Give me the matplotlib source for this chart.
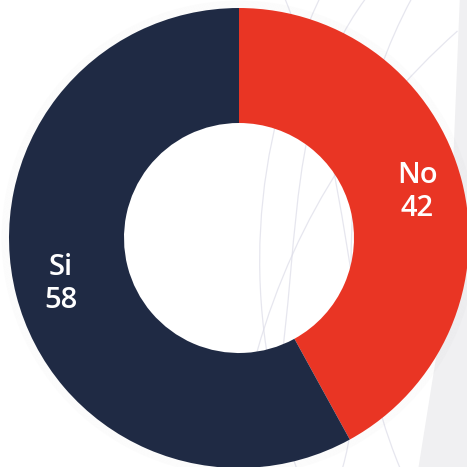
import numpy as np
import matplotlib.pyplot as plt
from matplotlib.patches import Circle, Polygon, PathPatch
from matplotlib.path import Path

# Data
labels = ['No', 'Si']
values = [42, 58]
colors = ['#e93524', '#1f2a44']

fig = plt.figure(figsize=(4.67, 4.67), dpi=100)
ax = fig.add_axes([0, 0, 1, 1])

# light gray backdrop on the far right
ax.add_patch(Polygon([(0.96, 1.04), (1.0, 1.04), (1.0, -1.0), (0.78, -1.0), (0.86, -0.5), (0.93, 0.3)],
                     closed=True, facecolor='#f0f0f2', edgecolor='none', zorder=0))

# faint decorative curves behind the chart
curves = [
    [(0.35, 1.04), (0.05, 0.4), (0.0, -0.3), (0.25, -1.0)],
    [(0.55, 1.04), (0.15, 0.5), (0.3, -0.2), (0.1, -1.0)],
    [(0.75, 1.04), (0.3, 0.2), (0.6, -0.5), (0.45, -1.0)],
    [(0.95, 0.9), (0.5, 0.5), (0.2, 0.0), (0.05, -0.6)],
    [(0.2, 1.04), (0.5, 0.3), (0.45, -0.4), (0.7, -1.0)],
]
for c in curves:
    p = Path(c, [Path.MOVETO, Path.CURVE4, Path.CURVE4, Path.CURVE4])
    ax.add_patch(PathPatch(p, facecolor='none', edgecolor='#dcdce8', lw=0.9, alpha=0.7, zorder=0))

# soft shadow
for r in np.linspace(1.003, 1.03, 6):
    ax.add_patch(Circle((0, 0), r, facecolor='none', edgecolor='#000000', lw=1.0, alpha=0.012, zorder=1))

wedges, texts = ax.pie(values, colors=colors, startangle=90, counterclock=False,
                       radius=1.0, wedgeprops=dict(width=0.5, edgecolor='none'),
                       labels=[f'{l}\n{v}' for l, v in zip(labels, values)],
                       labeldistance=0.8)
for w in wedges:
    w.set_zorder(2)
for t in texts:
    t.set_color('white')
    t.set_fontsize(21)
    t.set_fontfamily('Open Sans')
    t.set_fontweight('semibold')
    t.set_ha('center')
    t.set_va('center')
    t.set_linespacing(1.2)
    t.set_zorder(3)

ax.set_xlim(-1.0391, 0.9913)
ax.set_ylim(-0.9957, 1.0348)
ax.set_aspect('equal')
ax.axis('off')

fig.savefig('out.png', dpi=100, facecolor='white')
